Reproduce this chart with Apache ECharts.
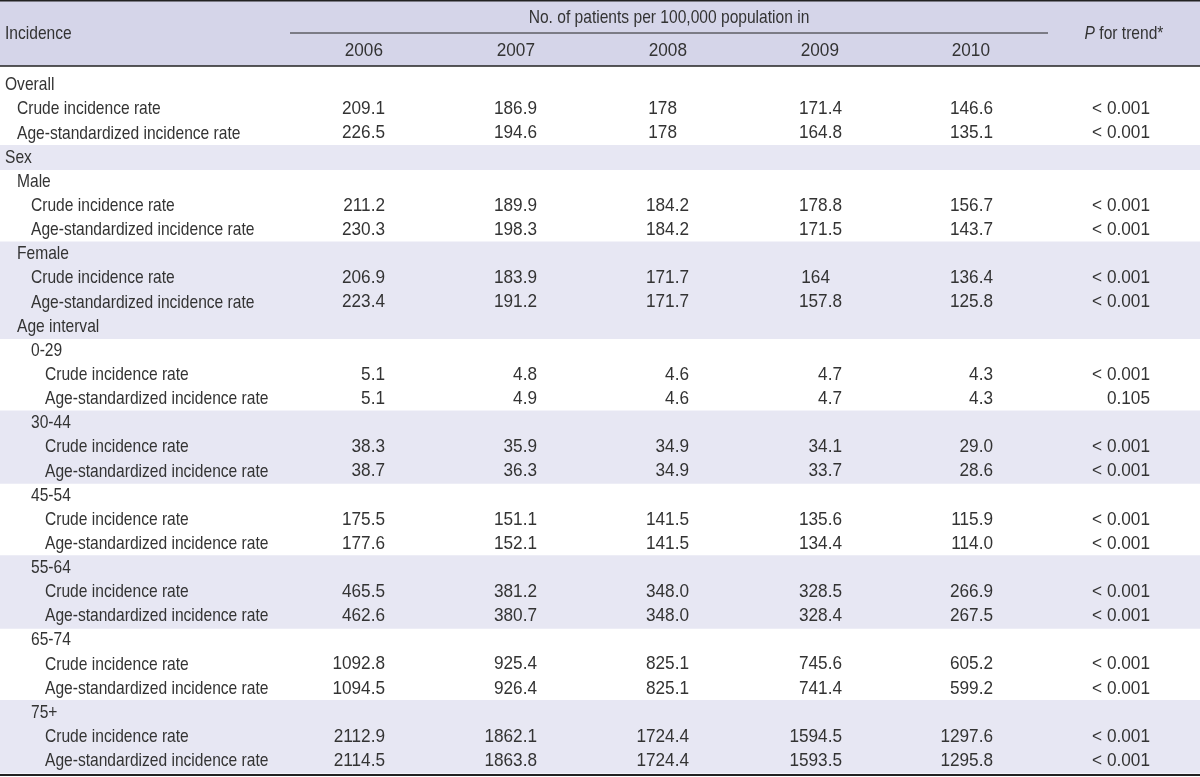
<!DOCTYPE html>
<html><head><meta charset="utf-8">
<script src="https://cdn.jsdelivr.net/npm/echarts@6/dist/echarts.min.js"></script>
<style>html,body{margin:0;padding:0;background:#fff}#c{width:1200px;height:777px}</style>
</head><body><div id="c"></div>
<script>
// ---------- DATA ----------
const years = ['2006', '2007', '2008', '2009', '2010'];
const headerTitle = 'No. of patients per 100,000 population in';
const stubHeader = 'Incidence';
const pHeaderItalic = 'P';
const pHeaderRest = ' for trend*';
const CR = 'Crude incidence rate';
const AS = 'Age-standardized incidence rate';
const rowLabels = ['Overall', CR, AS, 'Sex', 'Male', CR, AS, 'Female', CR, AS, 'Age interval',
  '0-29', CR, AS, '30-44', CR, AS, '45-54', CR, AS, '55-64', CR, AS, '65-74', CR, AS, '75+', CR, AS];
const rowLevels = [0, 1, 1, 0, 1, 2, 2, 1, 2, 2, 1, 2, 3, 3, 2, 3, 3, 2, 3, 3, 2, 3, 3, 2, 3, 3, 2, 3, 3];
const shadedRows = [3, 7, 8, 9, 10, 14, 15, 16, 20, 21, 22, 26, 27, 28];
const v2006 = ['', '209.1', '226.5', '', '', '211.2', '230.3', '', '206.9', '223.4', '', '', '5.1', '5.1', '', '38.3', '38.7', '', '175.5', '177.6', '', '465.5', '462.6', '', '1092.8', '1094.5', '', '2112.9', '2114.5'];
const v2007 = ['', '186.9', '194.6', '', '', '189.9', '198.3', '', '183.9', '191.2', '', '', '4.8', '4.9', '', '35.9', '36.3', '', '151.1', '152.1', '', '381.2', '380.7', '', '925.4', '926.4', '', '1862.1', '1863.8'];
const v2008 = ['', '178', '178', '', '', '184.2', '184.2', '', '171.7', '171.7', '', '', '4.6', '4.6', '', '34.9', '34.9', '', '141.5', '141.5', '', '348.0', '348.0', '', '825.1', '825.1', '', '1724.4', '1724.4'];
const v2009 = ['', '171.4', '164.8', '', '', '178.8', '171.5', '', '164', '157.8', '', '', '4.7', '4.7', '', '34.1', '33.7', '', '135.6', '134.4', '', '328.5', '328.4', '', '745.6', '741.4', '', '1594.5', '1593.5'];
const v2010 = ['', '146.6', '135.1', '', '', '156.7', '143.7', '', '136.4', '125.8', '', '', '4.3', '4.3', '', '29.0', '28.6', '', '115.9', '114.0', '', '266.9', '267.5', '', '605.2', '599.2', '', '1297.6', '1295.8'];
const pTrend = ['', '< 0.001', '< 0.001', '', '', '< 0.001', '< 0.001', '', '< 0.001', '< 0.001', '', '', '< 0.001', '0.105', '', '< 0.001', '< 0.001', '', '< 0.001', '< 0.001', '', '< 0.001', '< 0.001', '', '< 0.001', '< 0.001', '', '< 0.001', '< 0.001'];
const yearValues = [v2006, v2007, v2008, v2009, v2010];

// ---------- LAYOUT / STYLE ----------
const FONT_FAMILY = "'Liberation Sans', Arial, sans-serif";
const LABEL_SIZE = 19;
const LABEL_SCALE = 0.82;
const NUM_SIZE = 18.5;
const NUM_SCALE = 0.93;
const TEXT = '#333333';
const HEAD_BG = '#d5d5e9';
const BAND_BG = '#e7e7f3';
const LINE = '#222';
const colRight = [385, 537, 689, 842, 993];
const yearRight = [383, 535, 687, 839, 990];
const noDecimalShift = 12;
const pRight = 1150;
const indentX = [5, 17, 31, 45];

function txt(x, y, s, align, size, scale) {
  return {
    type: 'text', x: x, y: y, scaleX: scale, silent: true,
    style: { text: s, align: align, verticalAlign: 'middle', fontFamily: FONT_FAMILY, fontSize: size, fill: TEXT }
  };
}
const lbl = (x, y, s, a) => txt(x, y, s, a, LABEL_SIZE, LABEL_SCALE);
const num = (x, y, s, a) => txt(x, y, s, a, NUM_SIZE, NUM_SCALE);

const chart = echarts.init(document.getElementById('c'), null, { renderer: 'canvas' });
const rowCats = rowLabels.map((_, i) => String(i));

function renderHeader(params, api) {
  const c0 = api.coord([0, 0]);
  const c1 = api.coord([0, 1]);
  const h = api.size([0, 1])[1];
  const top = c0[1] - h / 2, bottom = c1[1] + h / 2, mid = c0[1] + h / 2;
  const X = v => api.coord([v, 0])[0];
  const ch = [];
  ch.push({ type: 'rect', shape: { x: X(0), y: top, width: X(1200) - X(0), height: bottom - top }, style: { fill: HEAD_BG } });
  ch.push({ type: 'line', shape: { x1: X(0), y1: top + 0.75, x2: X(1200), y2: top + 0.75 }, style: { stroke: LINE, lineWidth: 1.5 } });
  ch.push({ type: 'line', shape: { x1: X(0), y1: bottom, x2: X(1200), y2: bottom }, style: { stroke: LINE, lineWidth: 1.5 } });
  ch.push({ type: 'line', shape: { x1: X(290), y1: mid, x2: X(1048), y2: mid }, style: { stroke: LINE, lineWidth: 1 } });
  ch.push(lbl(X(indentX[0]), mid + 1, stubHeader, 'left'));
  ch.push(lbl(X(669), c0[1] + 1, headerTitle, 'center'));
  years.forEach((y, j) => ch.push(num(X(yearRight[j]), c1[1] + 1, y, 'right')));
  ch.push({
    type: 'text', x: X(1124), y: mid + 1, scaleX: LABEL_SCALE, silent: true,
    style: {
      text: '{i|' + pHeaderItalic + '}{n|' + pHeaderRest + '}', align: 'center', verticalAlign: 'middle',
      rich: {
        i: { fontFamily: FONT_FAMILY, fontSize: LABEL_SIZE, fontStyle: 'italic', fill: TEXT },
        n: { fontFamily: FONT_FAMILY, fontSize: LABEL_SIZE, fill: TEXT }
      }
    }
  });
  return { type: 'group', children: ch };
}

function renderRow(params, api) {
  const i = api.value(1);
  const c = api.coord([0, i]);
  const h = api.size([0, 1])[1];
  const X = v => api.coord([v, i])[0];
  const ch = [];
  if (shadedRows.indexOf(i) >= 0) {
    ch.push({ type: 'rect', shape: { x: X(0), y: c[1] - h / 2 - 0.5, width: X(1200) - X(0), height: h + 1 }, style: { fill: BAND_BG } });
  }
  ch.push(lbl(X(indentX[rowLevels[i]]), c[1], rowLabels[i], 'left'));
  yearValues.forEach((arr, j) => {
    const s = arr[i];
    if (!s) return;
    const r = s.indexOf('.') >= 0 ? colRight[j] : colRight[j] - noDecimalShift;
    ch.push(num(X(r), c[1], s, 'right'));
  });
  if (pTrend[i]) ch.push(num(X(pRight), c[1], pTrend[i], 'right'));
  if (i === rowLabels.length - 1) {
    const yb = c[1] + h / 2 + 2;
    ch.push({ type: 'line', shape: { x1: X(0), y1: yb, x2: X(1200), y2: yb }, style: { stroke: LINE, lineWidth: 2 } });
  }
  return { type: 'group', children: ch };
}

chart.setOption({
  animation: false,
  backgroundColor: '#fff',
  grid: [
    { left: 0, right: 0, top: 0, height: 66 },
    { left: 0, right: 0, top: 73, height: 700 }
  ],
  xAxis: [
    { gridIndex: 0, type: 'value', min: 0, max: 1200, show: false },
    { gridIndex: 1, type: 'value', min: 0, max: 1200, show: false }
  ],
  yAxis: [
    { gridIndex: 0, type: 'category', data: ['title', 'years'], inverse: true, show: false },
    { gridIndex: 1, type: 'category', data: rowCats, inverse: true, show: false }
  ],
  series: [
    { type: 'custom', xAxisIndex: 0, yAxisIndex: 0, renderItem: renderHeader, data: [[0, 0]], silent: true, clip: false },
    { type: 'custom', xAxisIndex: 1, yAxisIndex: 1, renderItem: renderRow, data: rowLabels.map((_, i) => [0, i]), silent: true, clip: false }
  ]
});
</script></body></html>
